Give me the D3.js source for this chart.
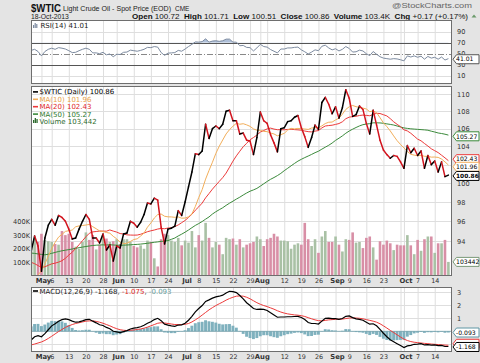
<!DOCTYPE html>
<html>
<head>
<meta charset="utf-8">
<script src="https://cdn.jsdelivr.net/npm/d3@7"></script>
<style>
  body { margin: 0; background: #e4e4e4; }
  svg { display: block; font-family: "DejaVu Sans", Verdana, sans-serif; }
</style>
</head>
<body>
<div id="chart"></div>
<script>
// trading days shown, Apr 26 - Oct 18 2013
const dates = [
  "04-26","04-29","04-30",
  "05-01","05-02","05-03","05-06","05-07","05-08","05-09","05-10","05-13","05-14","05-15","05-16","05-17",
  "05-20","05-21","05-22","05-23","05-24","05-28","05-29","05-30","05-31",
  "06-03","06-04","06-05","06-06","06-07","06-10","06-11","06-12","06-13","06-14","06-17","06-18","06-19",
  "06-20","06-21","06-24","06-25","06-26","06-27","06-28",
  "07-01","07-02","07-03","07-05","07-08","07-09","07-10","07-11","07-12","07-15","07-16","07-17","07-18",
  "07-19","07-22","07-23","07-24","07-25","07-26","07-29","07-30","07-31",
  "08-01","08-02","08-05","08-06","08-07","08-08","08-09","08-12","08-13","08-14","08-15","08-16","08-19",
  "08-20","08-21","08-22","08-23","08-26","08-27","08-28","08-29","08-30",
  "09-03","09-04","09-05","09-06","09-09","09-10","09-11","09-12","09-13","09-16","09-17","09-18","09-19",
  "09-20","09-23","09-24","09-25","09-26","09-27","09-30",
  "10-01","10-02","10-03","10-04","10-07","10-08","10-09","10-10","10-11","10-14","10-15","10-16","10-17","10-18"
];

const closes = [
  93.0, 94.5, 93.5, 91.0, 94.3, 95.6, 96.2, 95.6, 96.6, 96.4,
  96.0, 95.2, 94.2, 94.3, 95.2, 96.0, 96.7, 96.2, 94.3, 94.3,
  93.8, 94.7, 93.1, 93.6, 92.0, 93.5, 93.3, 94.7, 94.8, 96.0,
  95.8, 95.4, 95.9, 96.7, 97.9, 97.8, 98.4, 98.2, 95.4, 93.7,
  95.2, 95.3, 95.5, 97.1, 96.6, 98.0, 99.6, 101.2, 103.2, 103.1,
  103.5, 106.5, 104.9, 106.0, 106.3, 106.0, 106.5, 108.0, 108.1, 106.9,
  106.9, 105.4, 105.5, 104.7, 104.6, 103.1, 105.0, 107.9, 106.9, 106.6,
  105.3, 104.4, 103.4, 106.0, 106.1, 106.8, 106.9, 107.3, 107.5, 106.1,
  105.1, 103.9, 105.0, 106.4, 105.9, 109.0, 109.6, 108.8, 107.7, 108.5,
  107.2, 108.4, 110.5, 109.5, 107.4, 107.6, 108.6, 108.2, 106.6, 105.4,
  108.1, 106.4, 104.7, 103.6, 103.1, 102.7, 103.0, 102.9, 102.3, 101.6,
  104.1, 103.3, 103.8, 103.0, 103.5, 101.6, 103.0, 102.0, 102.4, 101.2,
  102.3, 100.7, 100.86
];

const ma10 = [
  89.58, 90.16, 90.64, 91.07, 91.73, 92.49, 93.23, 93.87, 94.39, 94.67,
  94.97, 95.04, 95.11, 95.44, 95.53, 95.57, 95.62, 95.68, 95.45, 95.24,
  95.02, 94.97, 94.86, 94.79, 94.47, 94.22, 93.88, 93.73, 93.78, 93.95,
  94.15, 94.22, 94.50, 94.81, 95.40, 95.83, 96.34, 96.69, 96.75, 96.52,
  96.46, 96.45, 96.41, 96.45, 96.32, 96.34, 96.46, 96.76, 97.54, 98.48,
  99.31, 100.43, 101.37, 102.26, 103.23, 104.03, 104.72, 105.40, 105.89, 106.27,
  106.61, 106.50, 106.56, 106.43, 106.26, 105.97, 105.82, 105.81, 105.69, 105.66,
  105.50, 105.40, 105.19, 105.32, 105.47, 105.84, 106.03, 105.97, 106.03, 105.98,
  105.96, 105.91, 106.07, 106.11, 106.09, 106.31, 106.58, 106.73, 106.75, 106.99,
  107.20, 107.65, 108.20, 108.51, 108.66, 108.52, 108.42, 108.36, 108.25, 107.94,
  108.03, 107.83, 107.25, 106.66, 106.23, 105.74, 105.18, 104.65, 104.22, 103.84,
  103.44, 103.13, 103.04, 102.98, 103.02, 102.91, 102.91, 102.82, 102.83, 102.79,
  102.61, 102.30, 101.96
];

const ma20 = [
  91.88, 91.75, 91.56, 91.39, 91.44, 91.59, 91.73, 91.80, 91.90, 92.04,
  92.28, 92.60, 92.88, 93.26, 93.63, 94.03, 94.43, 94.78, 94.92, 94.96,
  95.00, 95.00, 94.99, 95.12, 95.00, 94.90, 94.75, 94.71, 94.62, 94.60,
  94.59, 94.60, 94.68, 94.80, 94.94, 95.03, 95.11, 95.21, 95.27, 95.24,
  95.31, 95.34, 95.46, 95.63, 95.86, 96.09, 96.40, 96.73, 97.15, 97.50,
  97.89, 98.44, 98.89, 99.36, 99.78, 100.19, 100.59, 101.08, 101.72, 102.38,
  102.96, 103.47, 103.97, 104.35, 104.75, 105.00, 105.27, 105.61, 105.79, 105.97,
  106.06, 105.95, 105.88, 105.88, 105.87, 105.91, 105.93, 105.89, 105.86, 105.82,
  105.73, 105.66, 105.63, 105.72, 105.78, 106.08, 106.30, 106.35, 106.39, 106.48,
  106.58, 106.78, 107.13, 107.31, 107.37, 107.41, 107.50, 107.55, 107.51, 107.47,
  107.62, 107.75, 107.73, 107.59, 107.45, 107.14, 106.78, 106.49, 106.22, 105.87,
  105.74, 105.48, 105.15, 104.82, 104.63, 104.33, 104.05, 103.74, 103.53, 103.32,
  103.03, 102.74, 102.43
];

const ma50 = [
  92.80, 92.76, 92.71, 92.66, 92.62, 92.68, 92.77, 92.86, 92.95, 93.02,
  93.08, 93.14, 93.20, 93.27, 93.33, 93.39, 93.45, 93.50, 93.55, 93.58,
  93.60, 93.61, 93.60, 93.62, 93.60, 93.58, 93.57, 93.58, 93.60, 93.62,
  93.64, 93.66, 93.69, 93.73, 93.77, 93.82, 93.87, 93.91, 93.96, 94.00,
  94.04, 94.17, 94.30, 94.51, 94.69, 94.89, 95.11, 95.35, 95.58, 95.77,
  95.98, 96.22, 96.45, 96.75, 96.99, 97.20, 97.40, 97.65, 97.88, 98.09,
  98.31, 98.51, 98.74, 98.95, 99.14, 99.28, 99.44, 99.68, 99.93, 100.18,
  100.41, 100.60, 100.81, 101.05, 101.34, 101.60, 101.87, 102.13, 102.38, 102.58,
  102.77, 102.94, 103.12, 103.31, 103.47, 103.70, 103.92, 104.13, 104.38, 104.68,
  104.92, 105.18, 105.48, 105.73, 105.94, 106.13, 106.31, 106.45, 106.52, 106.57,
  106.66, 106.66, 106.65, 106.61, 106.54, 106.48, 106.41, 106.30, 106.19, 106.08,
  106.03, 105.98, 105.95, 105.92, 105.89, 105.86, 105.82, 105.71, 105.62, 105.51,
  105.45, 105.37, 105.27
];

// volume in thousands
const volume = [
  200, 280, 250, 310, 265, 255, 250, 235, 230, 330,
  300, 310, 250, 215, 200, 250, 320, 265, 300, 195,
  230, 300, 275, 250, 255, 270, 235, 270, 270, 250,
  220, 210, 225, 200, 260, 250, 130, 70, 270, 310,
  300, 260, 250, 280, 225, 260, 245, 330, 210, 300,
  260, 390, 280, 210, 250, 230, 160, 280, 270, 275,
  230, 270, 210, 230, 240, 250, 290, 270, 220, 270,
  280, 310, 290, 260, 260, 255, 200, 230, 240, 230,
  390, 270, 220, 270, 170, 290, 330, 250, 250, 290,
  230, 180, 270, 265, 320, 245, 250, 205, 280, 290,
  210, 120, 255, 230, 260, 240, 190, 230, 225, 225,
  300, 225, 160, 265, 185, 270, 290, 290, 170, 240,
  240, 265, 103.442
];

const rsi = [
  56, 58, 54, 46, 54, 58, 60, 58, 61, 60,
  58.5, 55.5, 52, 52.5, 55.5, 58, 60, 58, 51.5, 51.5,
  50, 52.5, 48, 49.5, 44.5, 49, 48.5, 52.5, 53, 56.5,
  55.5, 54.5, 56, 58, 61.5, 61, 63, 62, 52, 47,
  51, 51.5, 52, 56, 54.5, 58.5, 63, 67, 71.5, 71,
  72, 77, 71, 73, 73.5, 72.5, 73.5, 76.5, 76.5, 71,
  71, 64.5, 65, 61.5, 61, 55, 60.5, 67, 63, 62,
  57.5, 54.5, 51.5, 58.5, 58.5, 60.5, 60.5, 61.5, 62, 57,
  53.5, 49.5, 53, 57, 55.5, 63.5, 65.5, 60.5, 57, 59,
  55, 58, 63, 59.5, 53, 53.5, 56.5, 55, 50, 46.5,
  54, 49, 44.5, 42, 41, 40, 41, 40.5, 39, 37,
  46, 44, 46, 43.5, 45.5, 40, 45, 42, 43.5, 40,
  44, 38.5, 41.01
];

const macd = [
  -0.67, -0.42, -0.33, -0.42, -0.18, 0.12, 0.42, 0.58, 0.78, 0.90,
  0.95, 0.90, 0.78, 0.70, 0.72, 0.80, 0.90, 0.92, 0.78, 0.65,
  0.50, 0.45, 0.30, 0.20, 0.00, -0.05, -0.10, -0.02, 0.05, 0.18,
  0.25, 0.28, 0.35, 0.46, 0.62, 0.74, 0.90, 1.00, 0.82, 0.55,
  0.48, 0.42, 0.38, 0.48, 0.50, 0.62, 0.85, 1.15, 1.50, 1.75,
  1.98, 2.30, 2.42, 2.55, 2.65, 2.70, 2.78, 2.95, 3.08, 3.05,
  2.98, 2.75, 2.50, 2.20, 1.98, 1.75, 1.68, 1.70, 1.68, 1.60,
  1.42, 1.25, 1.08, 1.10, 1.10, 1.12, 1.12, 1.14, 1.15, 1.06,
  0.90, 0.68, 0.60, 0.60, 0.56, 0.78, 1.00, 1.02, 0.98, 0.98,
  0.92, 0.98, 1.15, 1.18, 1.05, 0.96, 0.92, 0.85, 0.70, 0.55,
  0.58, 0.42, 0.15, -0.15, -0.42, -0.65, -0.80, -0.95, -1.10, -1.25,
  -1.12, -1.08, -1.00, -0.98, -0.95, -1.05, -1.02, -1.06, -1.05, -1.10,
  -1.08, -1.17, -1.168
];

const signal = [
  -1.05, -0.98, -0.90, -0.82, -0.70, -0.55, -0.38, -0.20, -0.02, 0.14,
  0.30, 0.42, 0.52, 0.60, 0.66, 0.72, 0.78, 0.80, 0.80, 0.76,
  0.70, 0.62, 0.52, 0.42, 0.30, 0.20, 0.12, 0.08, 0.06, 0.08,
  0.10, 0.14, 0.18, 0.24, 0.32, 0.42, 0.52, 0.62, 0.66, 0.64,
  0.60, 0.56, 0.52, 0.52, 0.52, 0.54, 0.60, 0.72, 0.88, 1.05,
  1.25, 1.45, 1.65, 1.82, 1.98, 2.12, 2.25, 2.40, 2.52, 2.62,
  2.70, 2.72, 2.70, 2.62, 2.50, 2.35, 2.20, 2.08, 1.98, 1.90,
  1.80, 1.70, 1.58, 1.48, 1.40, 1.34, 1.30, 1.26, 1.24, 1.20,
  1.14, 1.05, 0.96, 0.88, 0.82, 0.80, 0.84, 0.88, 0.90, 0.92,
  0.93, 0.94, 0.98, 1.02, 1.03, 1.02, 1.00, 0.96, 0.90, 0.84,
  0.78, 0.70, 0.58, 0.42, 0.25, 0.07, -0.10, -0.27, -0.44, -0.60,
  -0.71, -0.79, -0.84, -0.87, -0.90, -0.93, -0.95, -0.98, -1.00, -1.02,
  -1.04, -1.06, -1.075
];

// axis labels
const tickDates = ["05-01","05-06","05-13","05-20","05-28","06-03","06-10","06-17","06-24","07-01","07-08","07-15",
  "07-22","07-29","08-01","08-12","08-19","08-26","09-03","09-09","09-16","09-23","10-01","10-07","10-14"];
const tickLabels = ["May","6","13","20","28","Jun","10","17","24","Jul","8","15",
  "22","29","Aug","12","19","26","Sep","9","16","23","Oct","7","14"];
const gridDates = tickDates.concat(["08-05","09-30"]);
const priceTicks = [94, 96, 98, 100, 102, 104, 106, 108, 110];
const priceLabels = [94, 96, 98, 100, 104, 106, 108, 110];   // 102 sits under the flags
const volumeTicks = [100, 200, 300, 400];
const rsiTicks = [10, 30, 50, 70, 90];
const macdTicks = [-1, 0, 1, 2, 3];
const macdLabels = [1, 2, 3];

const W = 480, H = 363;
const left = 31, right = 452;
const rsiBox = { top: 20, bottom: 84 };
const priceBox = { top: 86, bottom: 276 };
const macdBox = { top: 287, bottom: 352 };

const svg = d3.select("#chart").append("svg")
  .attr("width", W).attr("height", H);

const x = d3.scaleLinear().domain([0, dates.length - 1]).range([31.2, 448.4]);
const yP = d3.scaleLog().domain([94, 110]).range([241, 94]);
const yV = d3.scaleLinear().domain([0, 400]).range([276, 221.5]);
const yR = d3.scaleLinear().domain([0, 100]).range([81.2, 26.2]);
const yM = d3.scaleLinear().domain([-1, 3]).range([344.3, 292.3]);

const idx = d => dates.indexOf(d);

// panels
function panel(box, name) {
  svg.append("rect")
    .attr("x", left).attr("y", box.top)
    .attr("width", right - left).attr("height", box.bottom - box.top)
    .attr("fill", "#fff");
  svg.append("clipPath").attr("id", "clip-" + name)
    .append("rect")
    .attr("x", left).attr("y", box.top)
    .attr("width", right - left).attr("height", box.bottom - box.top);
  const g = svg.append("g").attr("clip-path", `url(#clip-${name})`);
  g.selectAll(".vgrid")
    .data(gridDates)
    .join("line")
    .attr("x1", d => x(idx(d)) + 0.5).attr("x2", d => x(idx(d)) + 0.5)
    .attr("y1", box.top).attr("y2", box.bottom)
    .attr("stroke", "#dedede").attr("stroke-width", 1);
  return g;
}

function border(box) {
  svg.append("rect")
    .attr("x", left + 0.5).attr("y", box.top + 0.5)
    .attr("width", right - left - 1).attr("height", box.bottom - box.top - 1)
    .attr("fill", "none").attr("stroke", "#6e6e6e");
}

// value flag on the right axis
function flag(y, text, color, bold) {
  svg.append("path")
    .attr("d", `M${right + 1},${y} L${right + 4.5},${y - 4.5} H479 V${y + 4.5} H${right + 4.5} Z`)
    .attr("fill", "#fff").attr("stroke", color).attr("stroke-width", 1);
  if (text) {
    svg.append("text")
      .attr("x", right + 4).attr("y", y + 2.2)
      .attr("font-size", bold ? 5.9 : 6.1).attr("font-weight", bold ? "bold" : "normal")
      .attr("fill", "#000")
      .text(text);
  }
}

function rightAxis(scale, ticks, fmt) {
  const g = svg.append("g")
    .attr("transform", `translate(${right},0)`)
    .call(d3.axisRight(scale).tickValues(ticks).tickSize(0).tickPadding(5).tickFormat(fmt));
  g.select(".domain").remove();
  g.selectAll("text").attr("font-size", 6.6).attr("fill", "#333")
    .attr("font-family", "DejaVu Sans, sans-serif");
}

function bottomAxis(yPos) {
  const g = svg.append("g")
    .attr("transform", `translate(0,${yPos})`)
    .call(d3.axisBottom(x).tickValues(tickDates.map(idx)).tickSize(0).tickPadding(2)
      .tickFormat((d, i) => tickLabels[i]));
  g.select(".domain").remove();
  const isMonth = (d, i) => isNaN(+tickLabels[i]);
  g.selectAll("text")
    .attr("font-family", "DejaVu Sans, sans-serif")
    .attr("fill", "#333")
    .attr("dx", (d, i) => isMonth(d, i) ? 1.5 : 0)
    .attr("font-size", (d, i) => isMonth(d, i) ? 6.8 : 6.4)
    .attr("font-weight", (d, i) => isMonth(d, i) ? "bold" : "normal");
}

// ---------- header ----------
svg.append("text").attr("x", 31).attr("y", 11.6)
  .attr("font-family", "Liberation Sans, Arial, sans-serif")
  .attr("font-size", 10.5).attr("font-weight", "bold").attr("fill", "#111")
  .attr("textLength", 30).attr("lengthAdjust", "spacingAndGlyphs")
  .text("$WTIC");
svg.append("text").attr("x", 63).attr("y", 11.2)
  .attr("font-family", "Liberation Sans, Arial, sans-serif")
  .attr("font-size", 7).attr("fill", "#222")
  .attr("textLength", 108).attr("lengthAdjust", "spacingAndGlyphs")
  .text("Light Crude Oil - Spot Price (EOD)");
svg.append("text").attr("x", 175).attr("y", 11.2)
  .attr("font-family", "Liberation Sans, Arial, sans-serif")
  .attr("font-size", 6.5).attr("fill", "#222").text("CME");
svg.append("text").attr("x", 31).attr("y", 19.3)
  .attr("font-family", "Liberation Sans, Arial, sans-serif")
  .attr("font-size", 6.8).attr("fill", "#222").text("18-Oct-2013");
svg.append("text").attr("x", 392).attr("y", 7.5)
  .attr("font-family", "Liberation Sans, Arial, sans-serif")
  .attr("font-size", 6.8).attr("fill", "#666")
  .attr("textLength", 80).attr("lengthAdjust", "spacingAndGlyphs")
  .text("@StockCharts.com");

const quote = [
  { t: "Open ", b: true }, { t: "100.72  " },
  { t: "High ", b: true }, { t: "101.71  " },
  { t: "Low ", b: true }, { t: "100.51  " },
  { t: "Close ", b: true }, { t: "100.86  " },
  { t: "Volume ", b: true }, { t: "103.4K  " },
  { t: "Chg ", b: true }, { t: "+0.17 (+0.17%)" }
];
svg.append("text")
  .attr("x", 132).attr("y", 19.3)
  .attr("font-family", "Liberation Sans, Arial, sans-serif")
  .attr("font-size", 7.2).attr("fill", "#111")
  .attr("xml:space", "preserve")
  .attr("textLength", 336).attr("lengthAdjust", "spacingAndGlyphs")
  .selectAll("tspan")
  .data(quote)
  .join("tspan")
  .attr("font-weight", d => d.b ? "bold" : "normal")
  .text(d => d.t);
svg.append("path").attr("d", "M471.5,17.5 L474,14.5 L476.5,17.5 Z").attr("fill", "#6a9a6a");

// ---------- RSI panel ----------
const gR = panel(rsiBox, "rsi");
gR.selectAll(".hgrid").data([10, 90]).join("line")
  .attr("x1", left).attr("x2", right)
  .attr("y1", d => Math.round(yR(d)) + 0.5).attr("y2", d => Math.round(yR(d)) + 0.5)
  .attr("stroke", "#dedede");
gR.selectAll(".band").data([30, 70]).join("line")
  .attr("x1", left).attr("x2", right)
  .attr("y1", d => Math.round(yR(d)) + 0.5).attr("y2", d => Math.round(yR(d)) + 0.5)
  .attr("stroke", "#555");
gR.append("line")
  .attr("x1", left).attr("x2", right)
  .attr("y1", Math.round(yR(50)) + 0.5).attr("y2", Math.round(yR(50)) + 0.5)
  .attr("stroke", "#888").attr("stroke-dasharray", "6,2,1,2");

svg.append("clipPath").attr("id", "clip-ob")
  .append("rect").attr("x", left).attr("y", rsiBox.top)
  .attr("width", right - left).attr("height", yR(70) - rsiBox.top);
gR.append("path")
  .datum(rsi)
  .attr("clip-path", "url(#clip-ob)")
  .attr("fill", "#aebfd8")
  .attr("d", d3.area().x((d, i) => x(i)).y0(yR(70)).y1(d => yR(d)));
gR.append("path")
  .datum(rsi)
  .attr("fill", "none").attr("stroke", "#7d8ba0").attr("stroke-width", 1)
  .attr("d", d3.line().x((d, i) => x(i)).y(d => yR(d)));
border(rsiBox);
rightAxis(yR, rsiTicks, d3.format("d"));

// RSI legend
svg.append("g").selectAll("rect")
  .data([3, 5, 4]).join("rect")
  .attr("x", (d, i) => 33 + i * 1.6).attr("y", d => 28 - d)
  .attr("width", 1.2).attr("height", d => d).attr("fill", "#7d8ba0");
svg.append("text").attr("x", 40.5).attr("y", 27.8)
  .attr("font-size", 7).attr("fill", "#222")
  .text("RSI(14) 41.01");
flag(yR(41.01) + 0.6, "41.01", "#555", false);

// ---------- price panel ----------
const gP = panel(priceBox, "price");
gP.selectAll(".hgrid").data(priceTicks).join("line")
  .attr("x1", left).attr("x2", right)
  .attr("y1", d => Math.round(yP(d)) + 0.5).attr("y2", d => Math.round(yP(d)) + 0.5)
  .attr("stroke", "#dedede");

gP.selectAll(".vol")
  .data(volume)
  .join("rect")
  .attr("x", (d, i) => x(i) - 1.3)
  .attr("y", d => yV(d))
  .attr("width", 2.6)
  .attr("height", d => yV(0) - yV(d))
  .attr("fill", (d, i) => i > 0 && closes[i] < closes[i - 1] ? "#d88fa6" : "#a9c1a5");

const maLine = d3.line().x((d, i) => x(i)).y(d => yP(d));
gP.append("path").datum(ma50).attr("fill", "none").attr("stroke", "#3b8a3b").attr("stroke-width", 1).attr("d", maLine);
gP.append("path").datum(ma20).attr("fill", "none").attr("stroke", "#ec3a3a").attr("stroke-width", 1).attr("d", maLine);
gP.append("path").datum(ma10).attr("fill", "none").attr("stroke", "#f2ae5a").attr("stroke-width", 1).attr("d", maLine);

// price line: black when rising, red when falling
gP.selectAll(".seg")
  .data(d3.range(1, closes.length))
  .join("line")
  .attr("x1", i => x(i - 1)).attr("y1", i => yP(closes[i - 1]))
  .attr("x2", i => x(i)).attr("y2", i => yP(closes[i]))
  .attr("stroke", i => closes[i] < closes[i - 1] ? "#d2141e" : "#000")
  .attr("stroke-width", 1.5).attr("stroke-linecap", "round");
border(priceBox);
rightAxis(yP, priceLabels, d3.format("d"));

// volume labels on the left
const gVA = svg.append("g")
  .attr("transform", `translate(${left},0)`)
  .call(d3.axisLeft(yV).tickValues(volumeTicks).tickSize(0).tickPadding(1).tickFormat(d => d + "K"));
gVA.select(".domain").remove();
gVA.selectAll("text").attr("font-size", 6.6).attr("fill", "#333")
  .attr("font-family", "DejaVu Sans, sans-serif");

// price legend
const legend = [
  { t: "$WTIC (Daily) 100.86", c: "#000", s: "#000" },
  { t: "MA(10) 101.96", c: "#e8a24a", s: "#f2ae5a" },
  { t: "MA(20) 102.43", c: "#e02828", s: "#ec3a3a" },
  { t: "MA(50) 105.27", c: "#2d7a2d", s: "#3b8a3b" },
  { t: "Volume 103,442", c: "#2d6a2d", s: null }
];
const gL = svg.append("g");
gL.selectAll("text").data(legend).join("text")
  .attr("x", 39.5).attr("y", (d, i) => 94.3 + i * 7.4)
  .attr("font-size", 7).attr("fill", d => d.c)
  .text(d => d.t);
gL.selectAll(".sw").data(legend.filter(d => d.s)).join("line")
  .attr("x1", 33).attr("x2", 38)
  .attr("y1", (d, i) => 91.9 + i * 7.4).attr("y2", (d, i) => 91.9 + i * 7.4)
  .attr("stroke", d => d.s).attr("stroke-width", 1.6);
gL.selectAll(".vb").data([3, 5, 4]).join("rect")
  .attr("x", (d, i) => 33 + i * 1.7).attr("y", d => 123 - d)
  .attr("width", 1.3).attr("height", d => d).attr("fill", "#2d6a2d");

flag(yP(105.27) + 1.2, "105.27", "#3b8a3b", false);
flag(yP(102.43) - 1.5, "102.43", "#ec3a3a", false);
flag(yP(101.96) + 1.8, "101.96", "#f2ae5a", false);
flag(yP(100.86) + 0.8, "100.86", "#000", true);
flag(yV(103.442), "103442", "#7a9a78", false);

bottomAxis(priceBox.bottom);

// ---------- MACD panel ----------
const gM = panel(macdBox, "macd");
gM.selectAll(".hgrid").data(macdTicks).join("line")
  .attr("x1", left).attr("x2", right)
  .attr("y1", d => Math.round(yM(d)) + 0.5).attr("y2", d => Math.round(yM(d)) + 0.5)
  .attr("stroke", "#dedede");

gM.selectAll(".hist")
  .data(macd)
  .join("rect")
  .attr("x", (d, i) => x(i) - 1.5)
  .attr("width", 2.9)
  .attr("y", (d, i) => Math.min(yM(0), yM(d - signal[i])))
  .attr("height", (d, i) => Math.abs(yM(d - signal[i]) - yM(0)))
  .attr("fill", "#7fb1be");
gM.append("line")
  .attr("x1", left).attr("x2", right)
  .attr("y1", yM(0)).attr("y2", yM(0))
  .attr("stroke", "#5f96a4").attr("stroke-width", 0.6);

const mLine = d3.line().x((d, i) => x(i)).y(d => yM(d));
gM.append("path").datum(signal).attr("fill", "none").attr("stroke", "#ec3a3a").attr("stroke-width", 1).attr("d", mLine);
gM.append("path").datum(macd).attr("fill", "none").attr("stroke", "#000").attr("stroke-width", 1.2).attr("d", mLine);
border(macdBox);
rightAxis(yM, macdLabels, d3.format("d"));

svg.append("line").attr("x1", 33).attr("x2", 38).attr("y1", 291).attr("y2", 291)
  .attr("stroke", "#000").attr("stroke-width", 1.6);
const mt = svg.append("text").attr("x", 39.5).attr("y", 293.5).attr("font-size", 7);
mt.append("tspan").attr("fill", "#222").text("MACD(12,26,9) -1.168, ");
mt.append("tspan").attr("fill", "#e02828").text("-1.075");
mt.append("tspan").attr("fill", "#222").text(", ");
mt.append("tspan").attr("fill", "#6aa0a0").text("-0.093");

flag(yM(-0.093), "-0.093", "#5f96a4", false);
flag(yM(-1.075) - 1.5, null, "#ec3a3a", false);   // hidden behind the MACD flag, as in the original
flag(yM(-1.168) + 0.5, "-1.168", "#000", false);

bottomAxis(macdBox.bottom);
</script>
</body>
</html>
